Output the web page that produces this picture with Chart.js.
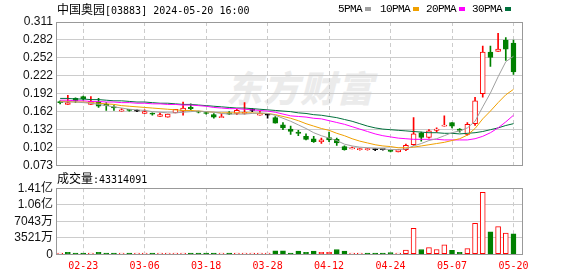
<!DOCTYPE html>
<html>
<head>
<meta charset="utf-8">
<script src="https://cdn.jsdelivr.net/npm/chart.js@4.4.1/dist/chart.umd.min.js"></script>
<style>
  body { margin:0; width:578px; height:276px; overflow:hidden; position:relative; background:#fff; }
  canvas { position:absolute; left:0; }
  .t { position:absolute; white-space:nowrap; font:12px/16px "Noto Sans CJK SC", sans-serif; color:#000; }
  .m { font-family:"DejaVu Sans Mono", monospace; font-size:10px; }
  .lg { position:absolute; top:1px; font:11px/16px "Liberation Mono", monospace; letter-spacing:-0.6px; color:#000; }
  .sq { position:absolute; top:7px; width:6px; height:4px; }
  .wm { position:absolute; left:230px; top:66px; font:900 36px/40px "Noto Sans CJK SC", sans-serif;
        color:#ebebeb; transform:skewX(-14deg); letter-spacing:1px; }
</style>
</head>
<body>
<div class="wm">东方财富</div>
<canvas id="priceChart" width="578" height="178" style="top:0"></canvas>
<canvas id="volChart" width="578" height="98" style="top:178px"></canvas>

<div class="t" style="left:57px;top:1px">中国奥园<span class="m">[03883] 2024-05-20 16:00</span></div>
<span class="lg" style="left:338px">5PMA</span><i class="sq" style="left:365px;background:#a0a0a0"></i>
<span class="lg" style="left:380px">10PMA</span><i class="sq" style="left:413px;background:#f0a000"></i>
<span class="lg" style="left:426px">20PMA</span><i class="sq" style="left:459px;background:#ff00ff"></i>
<span class="lg" style="left:472px">30PMA</span><i class="sq" style="left:505px;background:#00703c"></i>
<div class="t" style="left:57px;top:170px">成交量<span class="m">:43314091</span></div>

<script>
// trading days shown (HK), one candle each
const dates = ['02-20','02-21','02-22','02-23','02-26','02-27','02-28','02-29','03-01','03-04',
  '03-05','03-06','03-07','03-08','03-11','03-12','03-13','03-14','03-15','03-18',
  '03-19','03-20','03-21','03-22','03-25','03-26','03-27','03-28','04-02','04-03',
  '04-05','04-08','04-09','04-10','04-11','04-12','04-15','04-16','04-17','04-18',
  '04-19','04-22','04-23','04-24','04-25','04-26','04-29','04-30','05-02','05-03',
  '05-06','05-07','05-08','05-09','05-10','05-13','05-14','05-16','05-17','05-20'];
const xTickLabels = ['02-23','03-06','03-18','03-28','04-12','04-24','05-07','05-20'];

const open = [0.178,0.174,0.184,0.187,0.174,0.178,0.174,0.170,0.163,0.165,
  0.163,0.159,0.159,0.154,0.153,0.160,0.163,0.169,0.162,0.160,
  0.157,0.152,0.160,0.159,0.159,0.164,0.156,0.156,0.152,0.140,
  0.133,0.128,0.121,0.117,0.112,0.119,0.116,0.104,0.100,0.099,
  0.099,0.099,0.099,0.097,0.095,0.099,0.107,0.127,0.119,0.131,
  0.138,0.144,0.133,0.124,0.142,0.192,0.261,0.262,0.281,0.276];
const high = [0.180,0.189,0.185,0.188,0.187,0.184,0.177,0.172,0.167,0.166,
  0.165,0.165,0.160,0.160,0.158,0.166,0.178,0.175,0.163,0.161,
  0.159,0.159,0.162,0.166,0.177,0.167,0.163,0.157,0.154,0.144,
  0.138,0.131,0.125,0.121,0.118,0.128,0.118,0.105,0.103,0.101,
  0.101,0.101,0.099,0.098,0.099,0.108,0.152,0.128,0.132,0.135,
  0.155,0.144,0.134,0.144,0.186,0.271,0.271,0.292,0.285,0.281];
const low = [0.175,0.174,0.177,0.181,0.174,0.169,0.164,0.164,0.163,0.163,
  0.162,0.159,0.156,0.154,0.153,0.160,0.156,0.165,0.160,0.158,
  0.151,0.152,0.157,0.157,0.158,0.162,0.156,0.151,0.143,0.132,
  0.124,0.122,0.115,0.111,0.109,0.112,0.106,0.098,0.100,0.098,
  0.098,0.097,0.098,0.095,0.095,0.097,0.106,0.113,0.118,0.128,
  0.138,0.135,0.128,0.123,0.139,0.186,0.237,0.262,0.247,0.224];
const close = [0.177,0.177,0.180,0.183,0.179,0.171,0.172,0.168,0.165,0.164,
  0.163,0.162,0.158,0.157,0.158,0.166,0.168,0.167,0.161,0.159,
  0.153,0.154,0.158,0.164,0.161,0.164,0.159,0.156,0.143,0.135,
  0.129,0.126,0.116,0.112,0.115,0.115,0.110,0.099,0.101,0.100,
  0.100,0.099,0.099,0.096,0.099,0.106,0.125,0.119,0.130,0.133,
  0.139,0.138,0.131,0.141,0.180,0.261,0.252,0.266,0.266,0.228];

const ma5 = [0.178,0.178,0.178,0.177,0.176,0.174,0.172,0.170,0.168,0.166,
  0.165,0.164,0.162,0.161,0.160,0.160,0.161,0.162,0.163,0.162,
  0.161,0.159,0.158,0.158,0.158,0.159,0.160,0.159,0.156,0.151,
  0.146,0.140,0.134,0.127,0.122,0.118,0.114,0.108,0.105,0.103,
  0.102,0.101,0.100,0.099,0.099,0.100,0.105,0.109,0.114,0.117,
  0.122,0.127,0.130,0.135,0.146,0.170,0.193,0.220,0.245,0.254];
const ma10 = [0.179,0.179,0.178,0.178,0.177,0.176,0.175,0.174,0.172,0.171,
  0.170,0.169,0.168,0.167,0.166,0.165,0.164,0.164,0.163,0.162,
  0.161,0.160,0.160,0.160,0.160,0.160,0.159,0.159,0.157,0.154,
  0.151,0.147,0.142,0.138,0.134,0.131,0.126,0.122,0.117,0.113,
  0.110,0.107,0.105,0.104,0.102,0.102,0.103,0.105,0.107,0.109,
  0.111,0.114,0.117,0.123,0.134,0.150,0.163,0.177,0.190,0.199];
const ma20 = [0.181,0.181,0.180,0.180,0.179,0.179,0.178,0.178,0.177,0.177,
  0.176,0.176,0.175,0.175,0.174,0.174,0.173,0.173,0.172,0.171,
  0.169,0.168,0.167,0.167,0.166,0.165,0.164,0.163,0.161,0.158,
  0.155,0.154,0.153,0.151,0.150,0.147,0.144,0.141,0.137,0.133,
  0.129,0.125,0.122,0.120,0.118,0.117,0.116,0.116,0.116,0.116,
  0.115,0.115,0.115,0.115,0.117,0.121,0.127,0.135,0.145,0.156];
const ma30 = [0.184,0.184,0.183,0.183,0.182,0.182,0.181,0.180,0.180,0.179,
  0.178,0.178,0.177,0.176,0.176,0.175,0.174,0.174,0.173,0.172,
  0.171,0.170,0.169,0.168,0.168,0.167,0.166,0.165,0.164,0.163,
  0.162,0.160,0.159,0.157,0.156,0.154,0.152,0.149,0.146,0.142,
  0.138,0.135,0.133,0.132,0.131,0.130,0.129,0.128,0.127,0.127,
  0.126,0.126,0.125,0.126,0.127,0.129,0.132,0.135,0.139,0.142];

// volume in shares, and whether each bar is drawn as rising (u) or falling (d)
const volume = [1500000,4000000,1500000,1500000,1500000,4000000,1500000,1500000,1200000,1200000,
  1200000,1500000,1200000,1200000,1500000,1500000,2000000,1500000,1200000,1500000,
  2000000,1200000,1200000,1500000,1500000,1200000,1500000,1200000,7000000,7000000,
  2500000,6500000,4000000,6500000,4000000,4000000,10000000,6500000,1500000,1500000,
  1500000,1500000,1200000,3500000,1200000,9000000,55000000,10000000,14000000,10000000,
  20000000,8000000,4000000,12000000,66000000,132000000,48000000,59000000,45000000,43314091];
const volSide = 'udddudddud' + 'uuduuuuddd' + 'duduuuuudd' + 'dddduudduu' + 'dddduuuduu' + 'udduuuduud';

const priceTickLabels = ['0.073','0.102','0.132','0.162','0.192','0.222','0.252','0.282','0.311'];
const volTickLabels = ['0','3521万','7043万','1.06亿','1.41亿'];
const priceMin = 0.073, priceMax = 0.311;
const volMax = 140860000;

const RED = '#ff0000', GREEN = '#008000';
const X_MIN = -0.54, X_MAX = 60.24;
const tickIdx = xTickLabels.map(l => dates.indexOf(l));
const axisFont = { family: '"Liberation Sans", "Noto Sans CJK SC", sans-serif', size: 12 };

function candleColor(i){
  if (close[i] > open[i]) return RED;
  if (close[i] < open[i]) return GREEN;
  return '#000';
}

// grey frame around the plot area
const framePlugin = {
  id: 'frame',
  afterDraw(chart){
    const a = chart.chartArea, g = chart.ctx;
    const L = Math.round(a.left) + 0.5, T = Math.round(a.top) + 0.5;
    const R = Math.round(a.right) - 0.5, B = Math.round(a.bottom) + 0.5;
    g.save();
    g.strokeStyle = '#999';
    g.lineWidth = 1;
    g.strokeRect(L, T, R - L, B - T);
    g.restore();
  }
};

function xScale(showLabels){
  return {
    type: 'linear', min: X_MIN, max: X_MAX, offset: false,
    afterBuildTicks: s => { s.ticks = tickIdx.map(v => ({ value: v })); },
    afterFit: s => { s.height = showLabels ? 21.8 : 0; },
    ticks: {
      display: showLabels, autoSkip: false, maxRotation: 0, padding: 6, color: RED,
      font: { family: '"DejaVu Sans Mono", monospace', size: 10 },
      callback: (v, i) => xTickLabels[i]
    },
    grid: { color: '#ccc', drawTicks: false, offset: false },
    border: { display: false, dash: [4, 3] }
  };
}

function yScale(min, max, labels){
  return {
    min: min, max: max,
    afterBuildTicks: s => { s.ticks = labels.map((t, k) => ({ value: min + k * (max - min) / (labels.length - 1) })); },
    afterFit: s => { s.width = 56; },
    ticks: { autoSkip: false, padding: 3, color: '#111', font: axisFont, callback: (v, i) => labels[i] },
    grid: { color: '#ccc', drawTicks: false },
    border: { display: false }
  };
}

const maLine = (data, color) => ({
  type: 'line', data: data.map((v, i) => ({ x: i, y: v })),
  borderColor: color, borderWidth: 1, pointRadius: 0, tension: 0, fill: false
});

new Chart(document.getElementById('priceChart'), {
  type: 'bar',
  data: {
    datasets: [
      maLine(ma5, '#a0a0a0'),
      maLine(ma10, '#f0a000'),
      maLine(ma20, '#ff00ff'),
      maLine(ma30, '#00703c'),
      { // bodies
        data: dates.map((d, i) => ({ x: i, y: [open[i], close[i]] })),
        backgroundColor: c => close[c.dataIndex] > open[c.dataIndex] ? '#fff' : candleColor(c.dataIndex),
        borderColor: c => candleColor(c.dataIndex),
        borderWidth: 1, borderSkipped: false, barThickness: 5, minBarLength: 1, grouped: false
      },
      { // wicks
        data: dates.map((d, i) => ({ x: i, y: [low[i], high[i]] })),
        backgroundColor: c => candleColor(c.dataIndex),
        borderWidth: 0, barThickness: 1, grouped: false
      }
    ]
  },
  options: {
    responsive: false, animation: false, devicePixelRatio: 1, events: [],
    layout: { padding: { left: 0, right: 55, top: 22, bottom: 12.8 } },
    plugins: { legend: { display: false }, tooltip: { enabled: false } },
    scales: { x: xScale(false), y: yScale(priceMin, priceMax, priceTickLabels) }
  },
  plugins: [framePlugin]
});

new Chart(document.getElementById('volChart'), {
  type: 'bar',
  data: {
    datasets: [{
      data: volume.map((v, i) => ({ x: i, y: v })),
      backgroundColor: c => volSide[c.dataIndex] === 'u' ? '#fff' : GREEN,
      borderColor: c => volSide[c.dataIndex] === 'u' ? RED : GREEN,
      borderWidth: 1, borderSkipped: false, barThickness: 5, minBarLength: 1, grouped: false
    }]
  },
  options: {
    responsive: false, animation: false, devicePixelRatio: 1, events: [],
    layout: { padding: { left: 0, right: 55, top: 8, bottom: 0 } },
    plugins: { legend: { display: false }, tooltip: { enabled: false } },
    scales: { x: xScale(true), y: yScale(0, volMax, volTickLabels) }
  },
  plugins: [framePlugin]
});
</script>
</body>
</html>
